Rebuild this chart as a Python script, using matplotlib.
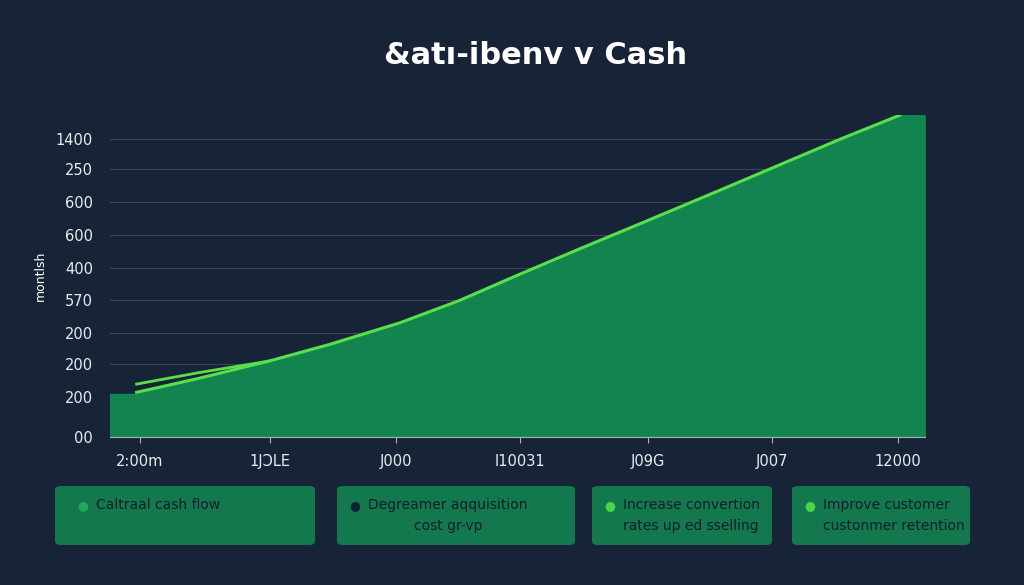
import matplotlib
matplotlib.use("Agg")
import matplotlib.pyplot as plt
from matplotlib.patches import FancyBboxPatch

bg = "#172336"
ytick_pos = [0, 1.2, 2.2, 3.15, 4.15, 5.1, 6.1, 7.1, 8.1, 9.0]
ytick_labels = ["00", "200", "200", "200", "570", "400", "600", "600", "250", "1400"]
xtick_pos = [30, 160, 286, 410, 538, 662, 788]
xtick_labels = ["2:00m", "1JƆLE", "J000", "I10031", "J09G", "J007", "12000"]
line_x = [27, 90, 160, 220, 290, 350, 410, 470, 540, 610, 670, 730, 790]
line_y = [1.35, 1.78, 2.3, 2.8, 3.45, 4.13, 4.92, 5.69, 6.57, 7.46, 8.23, 9.0, 9.73]
line2_x = [27, 90, 160]
line2_y = [1.6, 1.95, 2.3]
fill_x = [0, 27] + line_x[1:] + [815]
fill_y = [1.3, 1.3] + line_y[1:] + [9.73]
legend_items = ["Caltraal cash flow", "Degreamer aqquisition\ncost gr-vp",
                "Increase convertion\nrates up ed sselling", "Improve customer\ncustonmer retention"]
legend_dot = ["#1fa860", "#0f2233", "#4cd64c", "#4cd64c"]

fig = plt.figure(figsize=(10.24, 5.85), dpi=100, facecolor=bg)
ax = fig.add_axes([0.107, 0.253, 0.796, 0.55], facecolor=bg)
ax.set_xlim(0, 815)
ax.set_ylim(0, 9.73)
for y in ytick_pos:
    ax.axhline(y, color="#3a4658", lw=0.8, zorder=0)
ax.fill_between(fill_x, 0, fill_y, color="#138a52", alpha=0.95, zorder=1)
ax.plot(line_x, line_y, color="#57e04a", lw=2.2, zorder=3)
ax.plot(line2_x, line2_y, color="#57e04a", lw=2.0, zorder=3)
ax.set_yticks(ytick_pos, ytick_labels)
ax.set_xticks(xtick_pos, xtick_labels)
ax.tick_params(colors="#e8ecf0", labelsize=10.5, length=4)
ax.tick_params(axis="y", length=0, pad=12)
ax.tick_params(axis="x", color="#aab2bd", pad=8)
for s in ax.spines.values():
    s.set_visible(False)
ax.spines["bottom"].set_visible(True)
ax.spines["bottom"].set_color("#aab2bd")
ax.set_ylabel("montlsh", color="white", fontsize=9, labelpad=6)
fig.text(0.523, 0.905, "&atı-ibenv v Cash", color="white", fontsize=22, fontweight="bold",
         ha="center", va="center")

boxes = [(55, 315), (337, 575), (592, 772), (792, 970)]
for (x0, x1), txt, dc in zip(boxes, legend_items, legend_dot):
    fx0, fx1 = x0 / 1024, x1 / 1024
    fy0, fy1 = 1 - 545 / 585, 1 - 486 / 585
    fig.patches.append(FancyBboxPatch((fx0, fy0), fx1 - fx0, fy1 - fy0,
                       boxstyle="round,pad=0,rounding_size=0.006", transform=fig.transFigure,
                       facecolor="#14784f", edgecolor="none"))
    tx = fx0 + 0.04 if x0 < 100 else fx0 + 0.03
    fig.text(tx - 0.013, fy1 - 0.033, "●", color=dc, fontsize=9, va="center", ha="center")
    fig.text(tx, fy1 - 0.033, txt.split("\n")[0], color="#0e1e2c", fontsize=10, va="center")
    if "\n" in txt:
        fig.text(tx + (0.045 if x0 == 337 else 0.0), fy1 - 0.068, txt.split("\n")[1],
                 color="#0e1e2c", fontsize=10, va="center")
fig.savefig("out.png", dpi=100, facecolor=bg)
